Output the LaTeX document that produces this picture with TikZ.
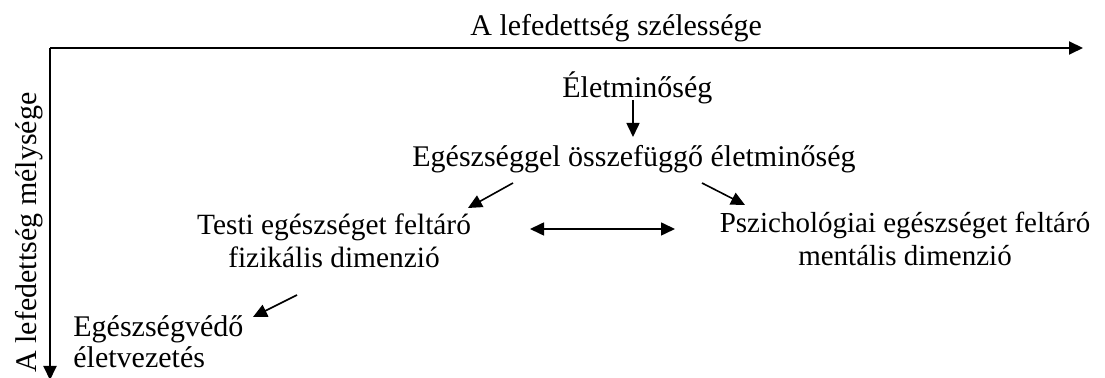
\documentclass[tikz,border=0pt]{standalone}
\usepackage{fontspec}
\setmainfont{Liberation Serif}
\usetikzlibrary{arrows.meta}
\begin{document}
\begin{tikzpicture}[x=0.5pt,y=-0.5pt,
  lbl/.style={font=\fontsize{15}{18}\selectfont, inner sep=0pt, anchor=base west},
  clbl/.style={font=\fontsize{14.7}{18}\selectfont, inner sep=0pt, anchor=base},
  slbl/.style={font=\fontsize{14.5}{18}\selectfont, inner sep=0pt, anchor=base},
  axis/.style={line width=1pt, -{Triangle[length=7pt,width=6.5pt]}},
  arr/.style={line width=0.8pt, -{Triangle[length=7pt,width=6.5pt]}},
  darr/.style={line width=0.8pt, {Triangle[length=7pt,width=6.5pt]}-{Triangle[length=7pt,width=6.5pt]}}]
\useasboundingbox (0,0) rectangle (1105,378);
% axes
\coordinate (o) at (50,48);
\coordinate (xend) at (1083,48);
\coordinate (yend) at (50,380);
\draw[axis] (o) -- (xend);
\draw[axis] (o) -- (yend);
\node[lbl] (xlab) at (470,36) {A lefedettség szélessége};
\node[lbl, rotate=90] (ylab) at (37,373) {A lefedettség mélysége};
% texts
\node[lbl] (elet) at (562,98) {Életminőség};
\node[lbl] (egesz) at (412,167) {Egészséggel összefüggő életminőség};
\node[clbl] (testi1) at (334,235) {Testi egészséget feltáró};
\node[clbl] (testi2) at (334,268) {fizikális dimenzió};
\node[slbl] (pszi1) at (905,233) {Pszichológiai egészséget feltáró};
\node[slbl] (pszi2) at (905,266) {mentális dimenzió};
\node[lbl] (ved1) at (73,337) {Egészségvédő};
\node[lbl] (ved2) at (73,368) {életvezetés};
% arrow ends
\coordinate (a1s) at (633,100); \coordinate (a1e) at (633,137);
\coordinate (a2s) at (513,183); \coordinate (a2e) at (468,208);
\coordinate (a3s) at (702,183); \coordinate (a3e) at (745,205);
\coordinate (a4s) at (530,229); \coordinate (a4e) at (675,229);
\coordinate (a5s) at (297,295); \coordinate (a5e) at (253,317);
\draw[arr] (a1s) -- (a1e);
\draw[arr] (a2s) -- (a2e);
\draw[arr] (a3s) -- (a3e);
\draw[darr] (a4s) -- (a4e);
\draw[arr] (a5s) -- (a5e);
\end{tikzpicture}
\end{document}
